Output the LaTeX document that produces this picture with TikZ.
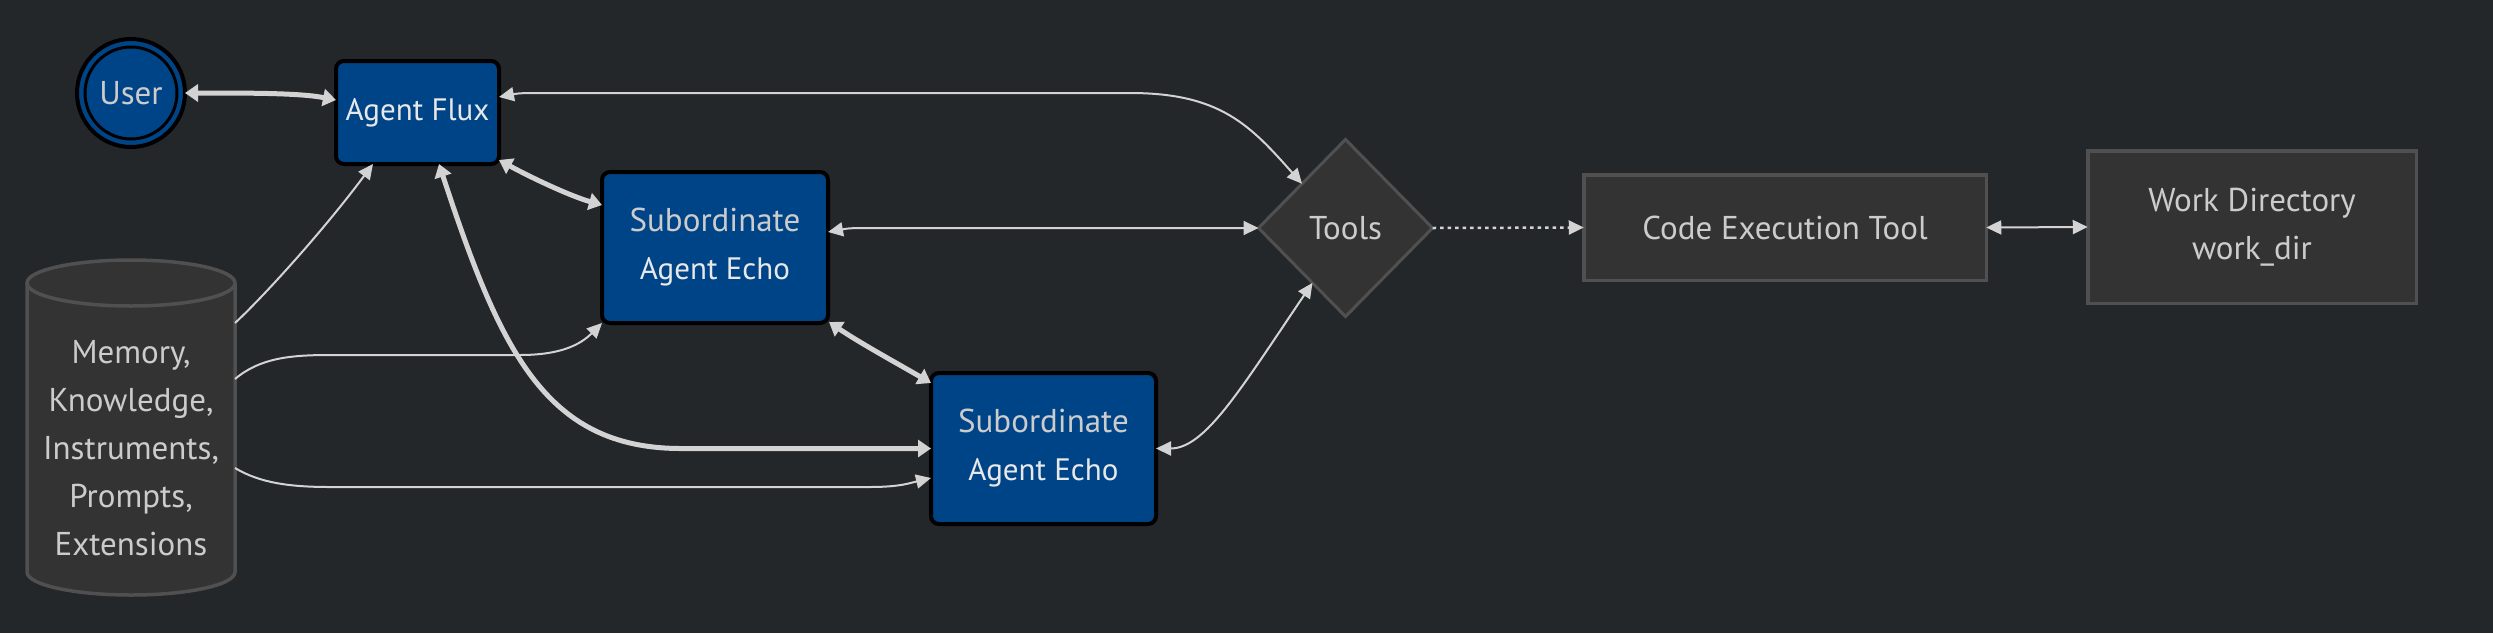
\documentclass[tikz,border=0pt]{standalone}
\usepackage{fontspec}
\setmainfont{PT Sans}
\usetikzlibrary{calc,arrows.meta,shapes.geometric}
\definecolor{bgc}{HTML}{23272A}
\definecolor{ablue}{HTML}{004488}
\definecolor{gfill}{HTML}{333333}
\definecolor{gstroke}{HTML}{505050}
\definecolor{linec}{HTML}{D3D3D3}
\definecolor{txtc}{HTML}{CCCCCC}
\definecolor{txtw}{HTML}{E8E8E8}
\newcommand\mainfs{\fontsize{33}{48}\selectfont}
\newcommand\agentname[1]{{\fontsize{31}{48}\selectfont\color{txtw}#1}}
\tikzset{
  agentbox/.style={draw=black, line width=4pt, fill=ablue, rounded corners=8pt, inner sep=0pt, outer sep=0pt, align=center, text=txtc, font=\mainfs},
  graybox/.style={draw=gstroke, fill=gfill, line width=3.5pt, inner sep=0pt, outer sep=0pt, align=center, text=txtc, font=\mainfs},
  usernode/.style={circle, draw=black, line width=4pt, fill=ablue, minimum size=108pt, inner sep=0pt, outer sep=0pt, text=txtc, font=\mainfs},
  toolsnode/.style={diamond, draw=gstroke, fill=gfill, line width=3pt, minimum width=174pt, minimum height=177pt, inner sep=0pt, outer sep=0pt, text=txtc, font=\mainfs},
  memtxt/.style={align=center, text=txtc, font=\mainfs, inner sep=0pt},
  memframe/.style={rectangle, minimum width=208pt, minimum height=337pt, inner sep=0pt, outer sep=0pt},
  thinlink/.style={draw=linec, line width=2pt},
  thicklink/.style={draw=linec, line width=5pt},
  thinboth/.style={thinlink, {Triangle[length=15pt,width=14pt]}-{Triangle[length=15pt,width=14pt]}},
  thinone/.style={thinlink, -{Triangle[length=15pt,width=14pt]}},
  thickboth/.style={thicklink, {Triangle[length=13pt,width=17pt]}-{Triangle[length=13pt,width=17pt]}},
  dotlink/.style={draw=linec, line width=2.5pt, dash pattern=on 3.5pt off 4pt, -{Triangle[length=15pt,width=14pt]}},
}
\begin{document}
\begin{tikzpicture}[x=1pt,y=1pt]
\fill[bgc] (0,0) rectangle (2493,-633);
\useasboundingbox (0,0) rectangle (2493,-633);

% nodes
\node[usernode] (user) at (131,-93) {User};
\draw[black, line width=3pt] (user.center) circle (46);
\node[agentbox, minimum width=163pt, minimum height=103pt] (flux) at (417.5,-112.5) {\agentname{Agent Flux}};
\node[agentbox, minimum width=226pt, minimum height=151pt] (sub1) at (715,-247.5) {Subordinate\\\agentname{Agent Echo}};
\node[agentbox, minimum width=225pt, minimum height=151pt] (sub2) at (1043.5,-448.5) {Subordinate\\\agentname{Agent Echo}};
\node[toolsnode] (tools) at (1345.5,-228) {Tools};
\node[graybox, minimum width=402.5pt, minimum height=105.5pt] (code) at (1785,-227.5) {Code Execution Tool};
\node[graybox, minimum width=328.5pt, minimum height=152.5pt] (work) at (2252,-227) {Work Directory\\work\_dir};

% cylinder
\node[memframe] (mem) at (131,-427.5) {};
\filldraw[fill=gfill, draw=gstroke, line width=3.5pt]
  (27,-283) -- (27,-572) arc[start angle=180, end angle=360, x radius=104, y radius=23]
  -- (235,-283) arc[start angle=0, end angle=180, x radius=104, y radius=23] -- cycle;
\draw[gstroke, line width=3.5pt] (27,-283) arc[start angle=180, end angle=360, x radius=104, y radius=23];
\node[memtxt] (memtext) at (131,-448) {Memory,\\Knowledge,\\Instruments,\\Prompts,\\Extensions};

% connectors
\draw[thickboth] (user.east) .. controls (250,-93) and (300,-93) .. ([yshift=12.5pt]flux.west);
\draw[thickboth] ([yshift=-47.5pt]flux.east) .. controls (530,-177) and (570,-196) .. ([yshift=42.5pt]sub1.west);
\draw[thickboth] ([xshift=21.5pt]flux.south) .. controls (500,-350) and (545,-448) .. (680,-448.5) -- (sub2.west);
\draw[thinboth] ([yshift=15.5pt]flux.east) .. controls (520,-93) and (520,-93) .. (560,-93) -- (1130,-93)
  .. controls (1220,-93) and (1250,-125) .. ($(tools.west)!0.5!(tools.north)$);
\draw[thinboth] ([yshift=15.5pt]sub1.east) .. controls (850,-228) and (850,-228) .. (885,-228) -- (tools.west);
\draw[thickboth] ([xshift=1pt,yshift=1pt]sub1.south east) .. controls (860,-343) and (900,-365) .. ([yshift=-10pt]sub2.north west);
\draw[thinboth] (sub2.east) .. controls (1205,-448.5) and (1240,-390) .. ($(tools.west)!0.62!(tools.south)$);
\draw[thinone] ([yshift=104.5pt]mem.east) .. controls (260,-300) and (320,-235) .. ([xshift=-44.5pt]flux.south);
\draw[thinone] ([yshift=48.5pt]mem.east) .. controls (260,-358) and (290,-355) .. (330,-355) -- (520,-355)
  .. controls (560,-355) and (580,-345) .. (sub1.south west);
\draw[thinone] ([yshift=-40.5pt]mem.east) .. controls (260,-483) and (290,-487) .. (330,-487) -- (870,-487)
  .. controls (900,-487) and (910,-483) .. ([yshift=-29.5pt]sub2.west);
\draw[dotlink] (tools.east) -- (code.west);
\draw[thinboth] (code.east) -- (work.west);
\end{tikzpicture}
\end{document}
